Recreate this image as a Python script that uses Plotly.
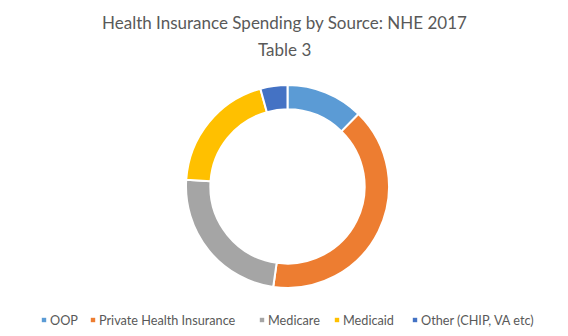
import plotly.graph_objects as go

labels = ["OOP", "Private Health Insurance", "Medicare", "Medicaid", "Other (CHIP, VA etc)"]
values = [365.5, 1183.1, 705.9, 581.9, 127.6]
colors = ["#5B9BD5", "#ED7D31", "#A5A5A5", "#FFC000", "#4472C4"]
title_lines = ["Health Insurance Spending by Source: NHE 2017", "Table 3"]

W, H = 568, 336
cx, cy, R = 287.5, 186.5, 101.5
TXT = "#595959"
FONT = "Lato, 'Open Sans', sans-serif"

fig = go.Figure(go.Pie(
    labels=labels, values=values, hole=0.76, sort=False, direction="clockwise",
    rotation=0, textinfo="none", hoverinfo="label+value+percent",
    marker=dict(colors=colors, line=dict(color="white", width=2)),
    domain=dict(x=[(cx - R) / W, (cx + R) / W], y=[(H - cy - R) / H, (H - cy + R) / H]),
    showlegend=False,
))

annotations = []
# title, two centred lines
title_y = [23, 49]
for line, ty in zip(title_lines, title_y):
    annotations.append(dict(text=line, x=0.5, y=1 - ty / H, xref="paper", yref="paper",
                            xanchor="center", yanchor="middle", showarrow=False,
                            font=dict(size=17, color=TXT, family=FONT)))

# legend built from the labels and colours
leg_marker_x = [44, 93, 262, 337, 415]
leg_y = 320
shapes = []
for lab, col, mx in zip(labels, colors, leg_marker_x):
    shapes.append(dict(type="rect", xref="paper", yref="paper",
                       x0=(mx - 2.2) / W, x1=(mx + 2.2) / W,
                       y0=1 - (leg_y + 2.2) / H, y1=1 - (leg_y - 2.2) / H,
                       fillcolor=col, line=dict(width=0)))
    annotations.append(dict(text=lab, x=(mx + 5.5) / W, y=1 - leg_y / H, xref="paper", yref="paper",
                            xanchor="left", yanchor="middle", showarrow=False, xshift=-2,
                            font=dict(size=12.7, color=TXT, family=FONT)))

fig.update_layout(
    width=W, height=H, margin=dict(l=0, r=0, t=0, b=0),
    paper_bgcolor="white", plot_bgcolor="white",
    font=dict(family=FONT, color=TXT),
    annotations=annotations, shapes=shapes, showlegend=False,
)

fig.write_html("out.html")
